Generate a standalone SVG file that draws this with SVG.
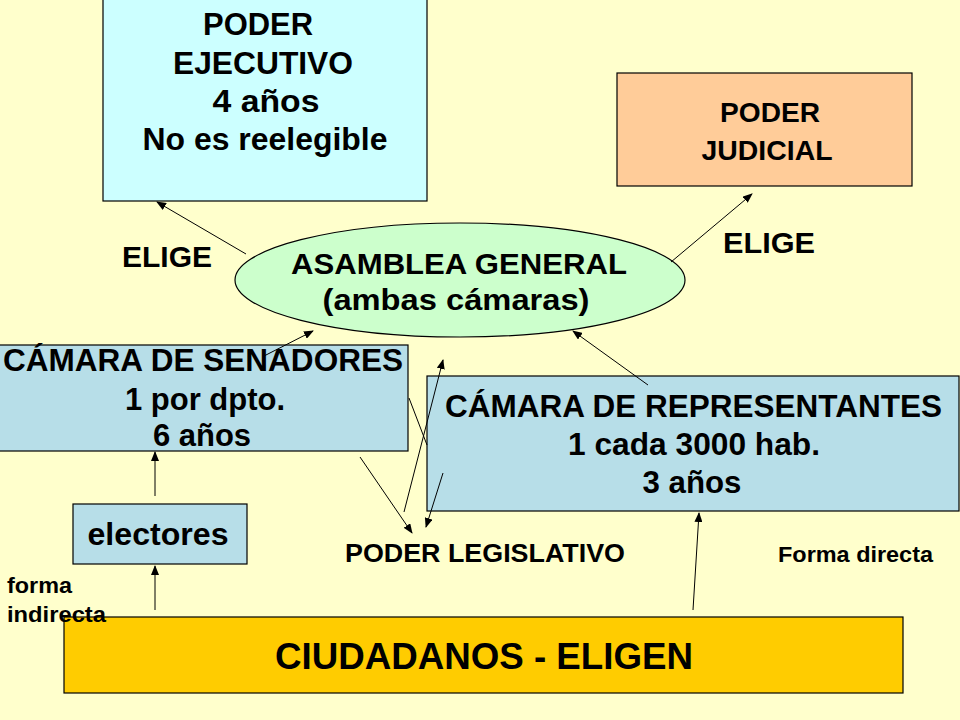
<svg xmlns="http://www.w3.org/2000/svg" width="960" height="720" viewBox="0 0 960 720">
<defs>
<style>
.box{stroke:#000;stroke-width:1.2}
.t{font-family:"Liberation Sans",Arial,sans-serif;font-weight:bold;fill:#000}
.c{text-anchor:middle}
.ln{stroke:#000;stroke-width:1;fill:none}
.ar{marker-end:url(#ah)}
</style>
<marker id="ah" viewBox="0 0 10 8" refX="9" refY="4" markerWidth="10" markerHeight="8" markerUnits="userSpaceOnUse" orient="auto">
<path d="M0,0 L10,4 L0,8 Z" fill="#000"/>
</marker>
</defs>
<rect width="960" height="720" fill="#FFFFCC"/>

<g id="ejecutivo">
<rect class="box" x="103" y="-1" width="324" height="202" fill="#CCFFFF"/>
<text class="t c" x="258" y="35" font-size="31" textLength="110" lengthAdjust="spacingAndGlyphs">PODER</text>
<text class="t c" x="263" y="74" font-size="31" textLength="180" lengthAdjust="spacingAndGlyphs">EJECUTIVO</text>
<text class="t c" x="266" y="112" font-size="31" textLength="107" lengthAdjust="spacingAndGlyphs">4 años</text>
<text class="t c" x="265" y="150" font-size="31" textLength="245" lengthAdjust="spacingAndGlyphs">No es reelegible</text>
</g>

<g id="judicial">
<rect class="box" x="617" y="73" width="295" height="113" fill="#FFCC99"/>
<text class="t c" x="770" y="122" font-size="28" textLength="100" lengthAdjust="spacingAndGlyphs">PODER</text>
<text class="t c" x="767" y="160" font-size="28" textLength="131" lengthAdjust="spacingAndGlyphs">JUDICIAL</text>
</g>

<g id="asamblea">
<ellipse class="box" cx="460" cy="280" rx="225" ry="57" fill="#CCFFCC"/>
<text class="t c" x="459" y="274" font-size="30" textLength="336" lengthAdjust="spacingAndGlyphs">ASAMBLEA GENERAL</text>
<text class="t c" x="456" y="310" font-size="30" textLength="267" lengthAdjust="spacingAndGlyphs">(ambas cámaras)</text>
</g>

<g id="senadores">
<rect class="box" x="-1" y="345" width="409" height="106" fill="#B7DEE8"/>
<text class="t" x="3" y="371" font-size="31" textLength="400" lengthAdjust="spacingAndGlyphs">CÁMARA DE SENADORES</text>
<text class="t c" x="205" y="410" font-size="31">1 por dpto.</text>
<text class="t c" x="202" y="446" font-size="31">6 años</text>
</g>

<g id="representantes">
<rect class="box" x="427" y="376" width="532" height="135" fill="#B7DEE8"/>
<text class="t" x="445" y="417" font-size="31" textLength="497" lengthAdjust="spacingAndGlyphs">CÁMARA DE REPRESENTANTES</text>
<text class="t c" x="694" y="455" font-size="31" textLength="252" lengthAdjust="spacingAndGlyphs">1 cada 3000 hab.</text>
<text class="t c" x="692" y="493" font-size="31" textLength="99" lengthAdjust="spacingAndGlyphs">3 años</text>
</g>

<g id="electores">
<rect class="box" x="73" y="504" width="174" height="60" fill="#B7DEE8"/>
<text class="t c" x="158" y="545" font-size="31" textLength="141" lengthAdjust="spacingAndGlyphs">electores</text>
</g>

<g id="ciudadanos">
<rect class="box" x="64" y="617" width="839" height="76" fill="#FFCC00"/>
<text class="t" x="275" y="669" font-size="36" textLength="418" lengthAdjust="spacingAndGlyphs">CIUDADANOS - ELIGEN</text>
</g>

<g id="labels">
<text class="t" x="122" y="267" font-size="30" textLength="90" lengthAdjust="spacingAndGlyphs">ELIGE</text>
<text class="t" x="723" y="253" font-size="30" textLength="92" lengthAdjust="spacingAndGlyphs">ELIGE</text>
<text class="t" x="345" y="562" font-size="26" textLength="280" lengthAdjust="spacingAndGlyphs">PODER LEGISLATIVO</text>
<text class="t" x="778" y="562" font-size="22" textLength="155" lengthAdjust="spacingAndGlyphs">Forma directa</text>
<text class="t" x="7" y="593" font-size="22" textLength="65" lengthAdjust="spacingAndGlyphs">forma</text>
<text class="t" x="7" y="622" font-size="22" textLength="99" lengthAdjust="spacingAndGlyphs">indirecta</text>
</g>

<g id="connectors">
<line class="ln ar" x1="246" y1="254" x2="157" y2="202"/>
<line class="ln ar" x1="671" y1="262" x2="752" y2="194"/>
<line class="ln ar" x1="264" y1="356" x2="313" y2="331"/>
<line class="ln ar" x1="360" y1="457" x2="412" y2="533"/>
<line class="ln ar" x1="404" y1="512" x2="443" y2="360"/>
<line class="ln" x1="409" y1="398" x2="427" y2="445"/>
<line class="ln ar" x1="443" y1="473" x2="426" y2="527"/>
<line class="ln ar" x1="648" y1="385" x2="573" y2="331"/>
<line class="ln ar" x1="155" y1="496" x2="155" y2="452"/>
<line class="ln ar" x1="155" y1="610" x2="155" y2="566"/>
<line class="ln ar" x1="693" y1="610" x2="699" y2="513"/>
</g>
</svg>
